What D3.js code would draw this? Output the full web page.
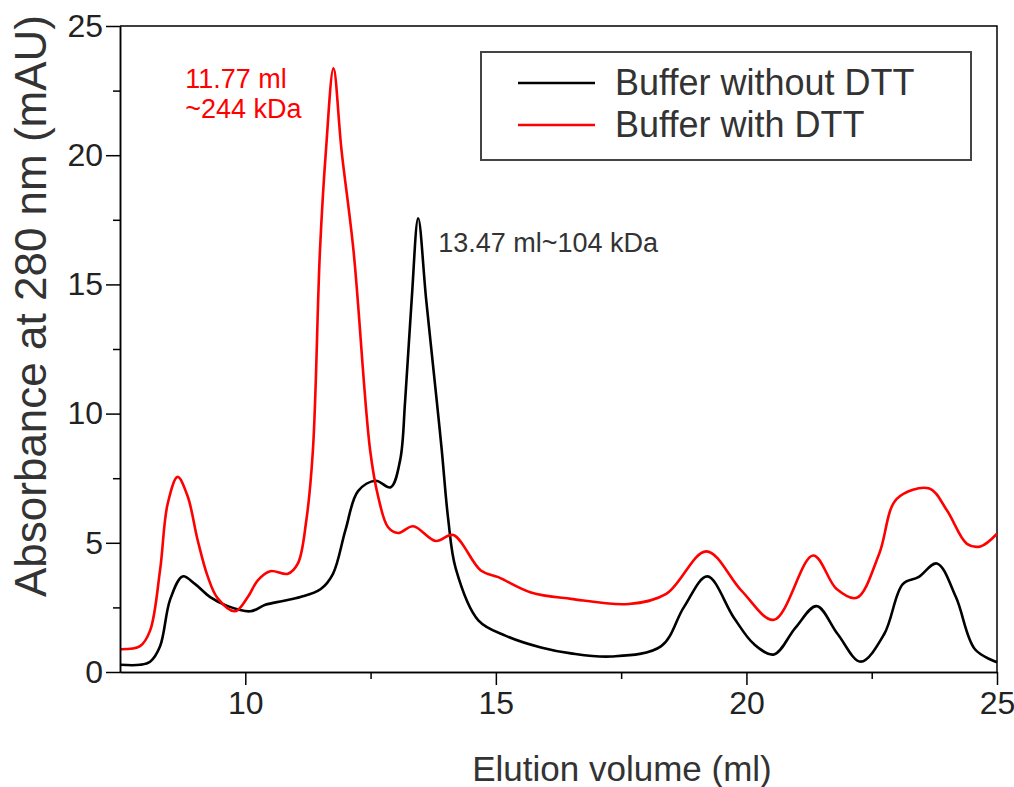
<!DOCTYPE html>
<html>
<head>
<meta charset="utf-8">
<script src="https://cdn.jsdelivr.net/npm/d3@7"></script>
<style>
  body { margin: 0; background: #fff; }
  svg text { font-family: "Liberation Sans", Arial, sans-serif; }
</style>
</head>
<body>
<div id="container"></div>
<script>
// elution volume (ml) / absorbance (mAU)
const volNoDTT = [7.5, 7.9, 8.1, 8.3, 8.5, 8.75, 9.0, 9.3, 9.65, 10.1, 10.4, 10.75, 11.1, 11.5, 11.75,
  12.0, 12.25, 12.6, 12.9, 13.09, 13.19, 13.32, 13.45, 13.61, 13.82, 13.92, 14.05, 14.2, 14.65, 15.2,
  15.9, 16.5, 17.3, 18.3, 18.75, 19.22, 19.75, 20.15, 20.55, 20.98, 21.4, 21.82, 22.28, 22.75, 23.12,
  23.43, 23.8, 24.18, 24.56, 25.0];
const absNoDTT = [0.28, 0.28, 0.4, 1.0, 2.8, 3.7, 3.4, 2.9, 2.55, 2.35, 2.6, 2.75, 2.9, 3.2, 3.8,
  5.5, 7.0, 7.4, 7.15, 8.2, 10.5, 14.4, 17.56, 14.4, 10.5, 8.6, 5.9, 4.0, 2.0, 1.4,
  0.95, 0.72, 0.6, 1.0, 2.5, 3.7, 2.1, 1.08, 0.68, 1.72, 2.55, 1.47, 0.4, 1.47, 3.4,
  3.67, 4.2, 2.9, 0.88, 0.38];

const volDTT = [7.5, 7.9, 8.1, 8.3, 8.45, 8.65, 8.85, 9.05, 9.25, 9.45, 9.8, 10.05, 10.25, 10.5, 10.85,
  11.05, 11.22, 11.35, 11.49, 11.61, 11.76, 11.92, 12.16, 12.49, 12.65, 12.85, 13.05, 13.35, 13.8, 14.15,
  14.7, 15.05, 15.7, 16.5, 17.65, 18.4, 19.2, 19.9, 20.55, 21.33, 21.8, 22.2, 22.65, 23.0, 23.65,
  24.0, 24.4, 24.67, 25.0];
const absDTT = [0.88, 1.0, 1.6, 3.95, 6.5, 7.55, 6.8, 5.1, 3.7, 2.85, 2.35, 2.9, 3.55, 3.9, 3.8,
  4.2, 5.9, 8.6, 16.3, 20.2, 23.36, 20.2, 16.3, 8.6, 6.8, 5.6, 5.38, 5.64, 5.07, 5.3,
  3.93, 3.67, 3.08, 2.83, 2.63, 3.02, 4.67, 3.15, 2.02, 4.51, 3.21, 2.87, 4.58, 6.7, 7.1,
  6.26, 4.96, 4.86, 5.35];

const seriesNames = ["Buffer without DTT", "Buffer with DTT"];
const seriesColors = ["#000000", "#ff0000"];

const xTicks = [10, 15, 20, 25];
const xMinor = [12.5, 17.5, 22.5];
const yTicks = [0, 5, 10, 15, 20, 25];
const yMinor = [2.5, 7.5, 12.5, 17.5, 22.5];

const notes = [
  { x: 8.8, y: 22.6, lines: ["11.77 ml", "~244 kDa"], color: "#ff0000" },
  { x: 13.85, y: 16.27, lines: ["13.47 ml~104 kDa"], color: "#333333" }
];

const width = 1014, height = 787;
const margin = { top: 26, right: 17, bottom: 115, left: 120 };
const w = width - margin.left - margin.right;
const h = height - margin.top - margin.bottom;

const svg = d3.select("#container").append("svg")
  .attr("width", width).attr("height", height);

const g = svg.append("g")
  .attr("transform", `translate(${margin.left}, ${margin.top})`);

const xScale = d3.scaleLinear().domain([7.5, 25]).range([0, w]);
const yScale = d3.scaleLinear().domain([0, 25]).range([h, 0]);

// frame (top + right)
g.append("path")
  .attr("d", `M0,0H${w}V${h}`)
  .attr("fill", "none").attr("stroke", "#000").attr("stroke-width", 1.5);

// curves
const line = d3.line()
  .x(d => xScale(d[0]))
  .y(d => yScale(d[1]))
  .curve(d3.curveCatmullRom.alpha(0.5));

const series = [
  d3.zip(volNoDTT, absNoDTT),
  d3.zip(volDTT, absDTT)
];

g.selectAll(".trace")
  .data(series)
  .enter()
  .append("path")
  .attr("class", "trace")
  .attr("d", line)
  .attr("fill", "none")
  .attr("stroke", (d, i) => seriesColors[i])
  .attr("stroke-width", 2.6)
  .attr("stroke-linejoin", "round");

// axes
g.append("g")
  .attr("transform", `translate(0, ${h})`)
  .call(d3.axisBottom(xScale).tickValues(xTicks).tickSize(13).tickSizeOuter(0).tickPadding(6));
g.append("g")
  .attr("transform", `translate(0, ${h})`)
  .call(d3.axisBottom(xScale).tickValues(xMinor).tickSize(7).tickSizeOuter(0).tickFormat(""));

g.append("g")
  .call(d3.axisLeft(yScale).tickValues(yTicks).tickSize(14).tickSizeOuter(0).tickPadding(3));
g.append("g")
  .call(d3.axisLeft(yScale).tickValues(yMinor).tickSize(7).tickSizeOuter(0).tickFormat(""));

g.selectAll(".domain").attr("stroke", "#000").attr("stroke-width", 1.5);
g.selectAll(".tick line").attr("stroke", "#000").attr("stroke-width", 1.5);
g.selectAll(".tick text")
  .attr("fill", "#222")
  .style("font-size", "32px")
  .style("font-family", "'Liberation Sans', Arial, sans-serif");

// axis titles
svg.append("text")
  .attr("x", 622)
  .attr("y", 781)
  .attr("text-anchor", "middle")
  .attr("fill", "#333")
  .style("font-size", "35px")
  .text("Elution volume (ml)");

svg.append("text")
  .attr("transform", "translate(46, 306) rotate(-90)")
  .attr("text-anchor", "middle")
  .attr("fill", "#333")
  .style("font-size", "44px")
  .text("Absorbance at 280 nm (mAU)");

// peak labels
notes.forEach(n => {
  const t = g.append("text")
    .attr("x", xScale(n.x))
    .attr("y", yScale(n.y))
    .attr("fill", n.color)
    .style("font-size", "27px");
  n.lines.forEach((s, i) => {
    t.append("tspan").attr("x", xScale(n.x)).attr("dy", i === 0 ? 0 : 30).text(s);
  });
});

// legend
const legend = svg.append("g").attr("transform", "translate(481, 52)");
legend.append("rect")
  .attr("width", 490).attr("height", 108)
  .attr("fill", "#fff").attr("stroke", "#444").attr("stroke-width", 2);

seriesNames.forEach((name, i) => {
  const row = legend.append("g").attr("transform", `translate(0, ${31 + i * 42})`);
  row.append("line")
    .attr("x1", 37).attr("x2", 114)
    .attr("stroke", seriesColors[i]).attr("stroke-width", 2.6);
  row.append("text")
    .attr("x", 134).attr("y", 12)
    .attr("fill", "#333")
    .style("font-size", "36px")
    .text(name);
});
</script>
</body>
</html>
